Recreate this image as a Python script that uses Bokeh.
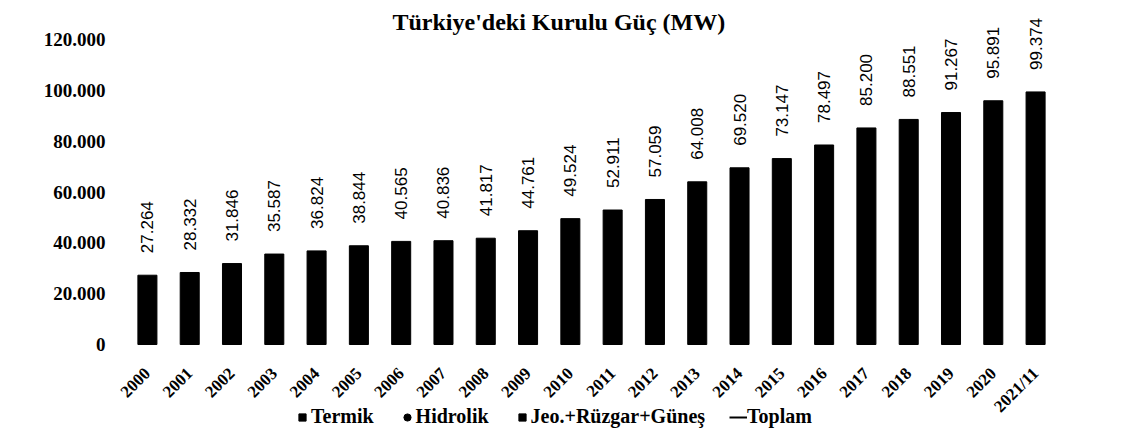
import math
from bokeh.plotting import figure
from bokeh.models import (ColumnDataSource, FactorRange, Range1d, FixedTicker,
                          LabelSet, Label, Legend, LegendItem)
from bokeh.core.properties import value
from bokeh.embed import file_html
from bokeh.resources import INLINE

# ---- data ----
years = ["2000", "2001", "2002", "2003", "2004", "2005", "2006", "2007", "2008",
         "2009", "2010", "2011", "2012", "2013", "2014", "2015", "2016", "2017",
         "2018", "2019", "2020", "2021/11"]
total_mw = [27264, 28332, 31846, 35587, 36824, 38844, 40565, 40836, 41817, 44761,
            49524, 52911, 57059, 64008, 69520, 73147, 78497, 85200, 88551, 91267,
            95891, 99374]
y_ticks = [0, 20000, 40000, 60000, 80000, 100000, 120000]
series_names = ["Termik", "Hidrolik", "Jeo.+Rüzgar+Güneş", "Toplam"]
title_text = "Türkiye'deki Kurulu Güç (MW)"


def tr_fmt(v):
    return f"{v:,}".replace(",", ".")


src = ColumnDataSource(dict(year=years, total=total_mw,
                            label=[tr_fmt(v) for v in total_mw]))

SERIF = "Liberation Serif"

# layout: frame fills the figure height; value axis 0..120000 occupies
# pixels ZERO_PX (from top) up to TOP_PX
FIG_W, FIG_H = 1122, 432
ZERO_PX, TOP_PX = 344, 39
ppu = (ZERO_PX - TOP_PX) / y_ticks[-1]
y_start = -(FIG_H - ZERO_PX) / ppu
y_end = y_ticks[-1] + TOP_PX / ppu
PAD_UNITS = 0.42  # empty space (in bar slots) on each side of the bars

p = figure(width=FIG_W, height=FIG_H, x_range=FactorRange(factors=years),
           y_range=Range1d(y_start, y_end), output_backend="svg", title=None,
           toolbar_location=None, min_border_left=108, min_border_right=48,
           min_border_top=0, min_border_bottom=0)
p.x_range.range_padding = 2 * PAD_UNITS / len(years)

p.vbar(x="year", top="total", width=0.45, source=src,
       fill_color="black", line_color="black")

labels = LabelSet(x="year", y="total", text="label", source=src,
                  angle=math.pi / 2, text_align="left", text_baseline="middle",
                  y_offset=22, text_font=value("Liberation Sans"),
                  text_font_size="17px", text_color="black")
p.add_layout(labels)

title = Label(x=284, y=FIG_H - 21, x_units="screen", y_units="screen",
              text=title_text, text_font=SERIF, text_font_size="24px",
              text_font_style="bold", text_color="black",
              text_baseline="middle", text_align="left")
p.add_layout(title)

# axes
p.xaxis.fixed_location = 0
p.xaxis.axis_line_color = None
p.xaxis.major_tick_line_color = None
p.xaxis.minor_tick_line_color = None
p.xaxis.major_tick_out = 0
p.xaxis.major_tick_in = 0
p.xaxis.major_label_orientation = math.pi / 4
p.xaxis.major_label_standoff = 26
p.xaxis.major_label_text_font = SERIF
p.xaxis.major_label_text_font_style = "bold"
p.xaxis.major_label_text_font_size = "17px"
p.xaxis.major_label_text_color = "black"

p.yaxis.ticker = FixedTicker(ticks=y_ticks)
p.yaxis.major_label_overrides = {t: tr_fmt(t) for t in y_ticks}
p.yaxis.axis_line_color = None
p.yaxis.major_tick_line_color = None
p.yaxis.minor_tick_line_color = None
p.yaxis.major_tick_out = 0
p.yaxis.major_tick_in = 0
p.yaxis.major_label_standoff = 3
p.yaxis.major_label_text_font = SERIF
p.yaxis.major_label_text_font_style = "bold"
p.yaxis.major_label_text_font_size = "19px"
p.yaxis.major_label_text_color = "black"

p.xgrid.grid_line_color = None
p.ygrid.grid_line_color = None
p.outline_line_color = None

# legend (all series print black in the reference); NaN points draw nothing
nan = float("nan")
r_term = p.scatter(x=[years[0]], y=[nan], marker="square", color="black")
r_hid = p.scatter(x=[years[0]], y=[nan], marker="circle", color="black")
r_jeo = p.scatter(x=[years[0]], y=[nan], marker="square", color="black")
r_top = p.line(x=[years[0], years[1]], y=[nan, nan], color="black", line_width=2)

legend = Legend(items=[LegendItem(label=series_names[0], renderers=[r_term]),
                       LegendItem(label=series_names[1], renderers=[r_hid]),
                       LegendItem(label=series_names[2], renderers=[r_jeo]),
                       LegendItem(label=series_names[3], renderers=[r_top])],
                orientation="horizontal", location=(185, 4),
                border_line_color=None, background_fill_alpha=0,
                padding=0, margin=0, spacing=24, label_standoff=0,
                glyph_width=18, glyph_height=18,
                label_text_font=SERIF, label_text_font_style="bold",
                label_text_font_size="20px", label_text_color="black")
p.add_layout(legend)

open("out.html", "w").write(file_html(p, INLINE))
